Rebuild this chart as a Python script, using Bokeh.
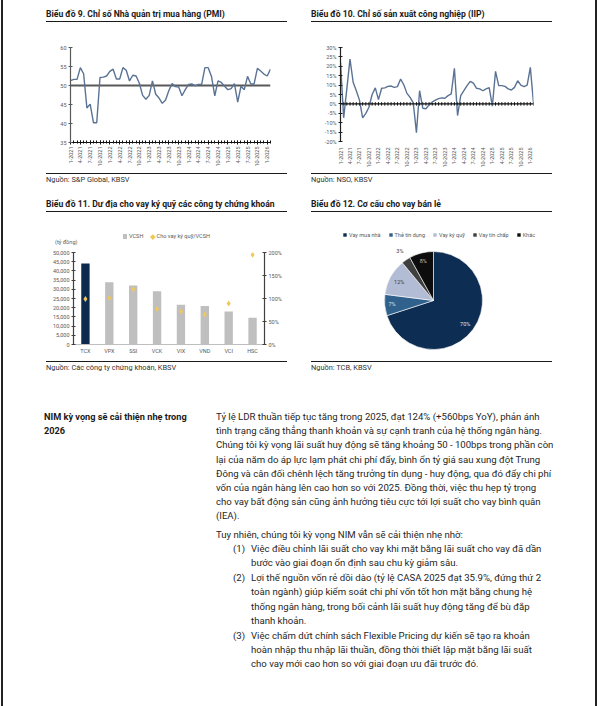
import math
import numpy as np
from bokeh.plotting import figure
from bokeh.layouts import row, column
from bokeh.models import (Div, Spacer, Range1d, FactorRange, LinearAxis, FixedTicker,
                          SingleIntervalTicker, Span, Legend, LegendItem,
                          NumeralTickFormatter, PrintfTickFormatter)
from bokeh.embed import file_html
from bokeh.resources import INLINE
from bokeh.core.properties import value

FONT = "Roboto"
INK = "#1a1a1a"
TICK_GRAY = "#595959"

# ---------------- data ----------------
MONTH_TICK_LABELS = ["1-2021", "4-2021", "7-2021", "10-2021",
                     "1-2022", "4-2022", "7-2022", "10-2022",
                     "1-2023", "4-2023", "7-2023", "10-2023",
                     "1-2024", "4-2024", "7-2024", "10-2024",
                     "1-2025", "4-2025", "7-2025", "10-2025", "1-2026"]

PMI = [51.3, 51.6, 51.6, 54.7, 53.1, 44.1, 45.1, 40.2, 40.2, 52.1, 52.2, 52.5,
       53.7, 54.3, 51.7, 51.7, 54.7, 54.0, 51.2, 52.7, 52.5, 50.6, 47.4, 46.4,
       47.4, 51.2, 47.7, 46.7, 45.3, 46.2, 48.7, 50.5, 49.7, 49.6, 47.3, 48.9,
       50.3, 50.4, 49.9, 50.3, 50.3, 54.7, 54.7, 52.4, 47.3, 51.2, 50.8, 49.8,
       48.9, 49.2, 50.5, 45.6, 49.8, 48.9, 52.4, 50.4, 50.4, 54.5, 53.8, 53.0,
       52.5, 54.3]
PMI_THRESHOLD = 50

IIP = [22.0, -7.4, 8.0, 23.8, 11.5, 7.0, 2.0, -7.4, -5.0, -1.8, 5.0, 8.5,
       2.3, 8.3, 8.5, 9.3, 9.5, 8.8, 9.2, 13.2, 10.2, 5.6, 3.5, 0.5,
       -15.3, 7.0, -2.3, -2.6, -0.5, 1.0, 2.0, 2.8, 3.2, 3.0, 4.4, 5.3,
       18.9, -6.2, 4.4, 7.0, 9.7, 12.0, 11.0, 8.3, 8.0, 7.0, 8.0, 8.6,
       -1.2, 17.3, 9.7, 9.7, 9.3, 8.0, 7.4, 8.8, 12.3, 10.0, 9.2, 10.0,
       19.4, 0.5]

BROKERS = ["TCX", "VPX", "SSI", "VCK", "VIX", "VND", "VCI", "HSC"]
EQUITY = [44000, 33800, 32000, 28900, 21600, 20900, 18000, 14500]
MARGIN_TO_EQUITY = [99, 101, 120, 77, 72, 65, 89, 195]
SERIES11 = ["VCSH", "Cho vay ký quỹ/VCSH"]
UNIT11 = "(tỷ đồng)"

RETAIL_CATS = ["Vay mua nhà", "Thẻ tín dụng", "Vay ký quỹ", "Vay tín chấp", "Khác"]
RETAIL_SHARE = [70, 7, 12, 3, 8]

TITLE9 = "Biểu đồ 9. Chỉ số Nhà quản trị mua hàng (PMI)"
TITLE10 = "Biểu đồ 10. Chỉ số sản xuất công nghiệp (IIP)"
TITLE11 = "Biểu đồ 11. Dư địa cho vay ký quỹ các công ty chứng khoán"
TITLE12 = "Biểu đồ 12. Cơ cấu cho vay bán lẻ"
SRC9 = "Nguồn: S&amp;P Global, KBSV"
SRC10 = "Nguồn: NSO, KBSV"
SRC11 = "Nguồn: Các công ty chứng khoán, KBSV"
SRC12 = "Nguồn: TCB, KBSV"

HEADING = ["NIM kỳ vọng sẽ cải thiện nhẹ trong", "2026"]
PARA1 = ["Tỷ lệ LDR thuần tiếp tục tăng trong 2025, đạt 124% (+560bps YoY), phản ánh",
         "tình trạng căng thẳng thanh khoản và sự cạnh tranh của hệ thống ngân hàng.",
         "Chúng tôi kỳ vọng lãi suất huy động sẽ tăng khoảng 50 - 100bps trong phần còn",
         "lại của năm do áp lực lạm phát chi phí đẩy, bình ổn tỷ giá sau xung đột Trung",
         "Đông và cân đối chênh lệch tăng trưởng tín dụng - huy động, qua đó đẩy chi phí",
         "vốn của ngân hàng lên cao hơn so với 2025. Đồng thời, việc thu hẹp tỷ trọng",
         "cho vay bất động sản cũng ảnh hưởng tiêu cực tới lợi suất cho vay bình quân",
         "(IEA)."]
PARA2 = "Tuy nhiên, chúng tôi kỳ vọng NIM vẫn sẽ cải thiện nhẹ nhờ:"
ITEMS = [["Việc điều chỉnh lãi suất cho vay khi mặt bằng lãi suất cho vay đã dần",
          "bước vào giai đoạn ổn định sau chu kỳ giảm sâu."],
         ["Lợi thế nguồn vốn rẻ dồi dào (tỷ lệ CASA 2025 đạt 35.9%, đứng thứ 2",
          "toàn ngành) giúp kiểm soát chi phí vốn tốt hơn mặt bằng chung hệ",
          "thống ngân hàng, trong bối cảnh lãi suất huy động tăng để bù đắp",
          "thanh khoản."],
         ["Việc chấm dứt chính sách Flexible Pricing dự kiến sẽ tạo ra khoản",
          "hoàn nhập thu nhập lãi thuần, đồng thời thiết lập mặt bằng lãi suất",
          "cho vay mới cao hơn so với giai đoạn ưu đãi trước đó."]]

# ---------------- styles ----------------
LINE_BLUE = "#5a7394"
NAVY = "#0c2a4d"
BAR_GRAY = "#bfbfbf"
GOLD = "#f0c75a"
PIE_COLORS = ["#0e2d52", "#30608c", "#b3bcd5", "#3f3f3f", "#0d0d0d"]
PIE_TEXT_COLORS = ["#dfe4ec", "#dfe4ec", "#404040", "#404040", "#bfbfbf"]
PIE_LABEL_R = [0.8, 0.85, 0.8, 1.22, 0.84]

COMMON = dict(output_backend="svg", toolbar_location=None, outline_line_color=None,
              background_fill_color="white", border_fill_color="white", margin=0)


def style_axis(ax, color="#404040", tin=2, tout=2):
    ax.axis_line_color = color
    ax.axis_line_width = 1.2
    ax.major_tick_line_color = color
    ax.major_tick_in = tin
    ax.major_tick_out = tout
    ax.minor_tick_line_color = None
    ax.major_label_text_font = FONT
    ax.major_label_text_font_size = "5.5px"
    ax.major_label_text_color = TICK_GRAY
    ax.major_label_standoff = 2


def title_div(text, w):
    html = (f'<div style="box-sizing:border-box;width:{w}px;height:22px;padding-top:9px;'
            f'border-bottom:1.6px solid {INK};font-family:{FONT};font-weight:bold;font-size:8.6px;'
            f'line-height:10px;color:{INK};white-space:nowrap">{text}</div>')
    return Div(text=html, width=w, height=22, margin=0)


def source_div(text, w):
    html = (f'<div style="box-sizing:border-box;width:{w}px;margin-top:1px;padding-top:1px;'
            f'border-top:1.5px solid {INK};font-family:{FONT};font-size:7.4px;'
            f'line-height:9px;color:#333333;white-space:nowrap">{text}</div>')
    return Div(text=html, width=w, height=20, margin=0)


def edge(w, h, side):
    ml = 0.5 if side == "L" else w - 2.5
    html = f'<div style="width:2px;height:{h}px;margin-left:{ml}px;background:#222222"></div>'
    return Div(text=html, width=w, height=h, margin=0)


def month_axis(p, n):
    tick_idx = [3 * i for i in range(len(MONTH_TICK_LABELS))]
    ax = p.xaxis[0]
    ax.ticker = FixedTicker(ticks=tick_idx, minor_ticks=list(range(n)))
    ax.major_label_overrides = {t: lab for t, lab in zip(tick_idx, MONTH_TICK_LABELS)}
    ax.major_label_orientation = math.pi / 2


# ---------------- chart 9: PMI ----------------
n9 = len(PMI)
x9 = list(range(n9))
p9 = figure(width=241, height=148, x_range=Range1d(0, n9 - 1), y_range=Range1d(35, 60),
            min_border_left=24, min_border_right=17, min_border_top=25, min_border_bottom=28,
            **COMMON)
p9.grid.visible = False
p9.add_layout(Span(location=PMI_THRESHOLD, dimension="width", line_color="#595959",
                   line_width=2, level="underlay"))
p9.line(x9, PMI, line_color=LINE_BLUE, line_width=1.4)
style_axis(p9.yaxis[0], color="#595959")
p9.yaxis[0].ticker = SingleIntervalTicker(interval=5, num_minor_ticks=0)
style_axis(p9.xaxis[0], color="#111111", tin=2, tout=2)
month_axis(p9, n9)
p9.xaxis[0].minor_tick_line_color = "#111111"
p9.xaxis[0].minor_tick_in = 2
p9.xaxis[0].minor_tick_out = 1

# ---------------- chart 10: IIP ----------------
n10 = len(IIP)
x10 = list(range(n10))
p10 = figure(width=241, height=148, x_range=Range1d(0, n10 - 1), y_range=Range1d(-20, 30),
             min_border_left=29, min_border_right=19, min_border_top=25, min_border_bottom=28,
             **COMMON)
p10.grid.visible = False
p10.add_layout(Span(location=0, dimension="width", line_color="#111111", line_width=1.2))
p10.scatter(x=x10, y=[0] * n10, marker="dash", angle=math.pi / 2, size=3.5,
            line_color="#111111", line_width=1)
p10.line(x10, IIP, line_color=LINE_BLUE, line_width=1.4)
style_axis(p10.yaxis[0], color="#222222")
p10.yaxis[0].ticker = SingleIntervalTicker(interval=5, num_minor_ticks=0)
p10.yaxis[0].formatter = PrintfTickFormatter(format="%d%%")
style_axis(p10.xaxis[0])
month_axis(p10, n10)
p10.xaxis[0].axis_line_color = None
p10.xaxis[0].major_tick_line_color = None

# ---------------- chart 11: margin lending ----------------
p11 = figure(width=241, height=112, x_range=FactorRange(factors=BROKERS, range_padding=0),
             y_range=Range1d(0, 50000),
             min_border_left=27, min_border_right=23, min_border_top=6, min_border_bottom=14,
             **COMMON)
p11.grid.visible = False
p11.extra_y_ranges = {"pct": Range1d(0, 200)}
bar_colors = [NAVY if i == 0 else BAR_GRAY for i in range(len(BROKERS))]
bars = p11.vbar(x=BROKERS, top=EQUITY, width=0.35, fill_color=bar_colors, line_color=None)
dots = p11.scatter(x=BROKERS, y=MARGIN_TO_EQUITY, y_range_name="pct", marker="diamond",
                   size=6, fill_color=GOLD, line_color=None)
style_axis(p11.yaxis[0])
p11.yaxis[0].ticker = SingleIntervalTicker(interval=5000, num_minor_ticks=0)
p11.yaxis[0].formatter = NumeralTickFormatter(format="0,0")
ax_r = LinearAxis(y_range_name="pct")
style_axis(ax_r)
ax_r.ticker = SingleIntervalTicker(interval=50, num_minor_ticks=0)
ax_r.formatter = PrintfTickFormatter(format="%d%%")
p11.add_layout(ax_r, "right")
style_axis(p11.xaxis[0], color="#bfbfbf", tin=0, tout=0)
p11.xaxis[0].major_label_standoff = 3

# legend strip + unit label for chart 11 (HTML text above the plot)
sw = "display:inline-block;width:4.5px;height:4.5px;vertical-align:middle;margin-right:1.5px"
legend11_html = (
    f'<div style="position:relative;width:241px;height:34px;font-family:{FONT};font-size:5.6px;'
    f'color:{TICK_GRAY};white-space:nowrap">'
    f'<div style="position:absolute;left:0;top:20px;width:241px;line-height:8px;text-align:center">'
    f'<span style="{sw};background:{BAR_GRAY}"></span>{SERIES11[0]}'
    f'<span style="display:inline-block;width:8px"></span>'
    f'<span style="{sw};width:3.6px;height:3.6px;background:{GOLD};transform:rotate(45deg)"></span>'
    f'{SERIES11[1]}</div>'
    f'<div style="position:absolute;left:9px;top:26px;line-height:8px">{UNIT11}</div></div>')
strip11 = Div(text=legend11_html, width=241, height=34, margin=0)

# ---------------- chart 12: retail loan mix ----------------
PIE_CX, PIE_CY, PIE_R = 122, 58, 49
p12 = figure(width=241, height=146, x_range=Range1d(0, 241), y_range=Range1d(0, 146),
             x_axis_location=None, y_axis_location=None, min_border=0, **COMMON)
p12.grid.visible = False
shares = np.array(RETAIL_SHARE, dtype=float) / sum(RETAIL_SHARE)
cum = np.concatenate([[0.0], np.cumsum(shares)])
start = np.pi / 2 - 2 * np.pi * cum[:-1]
end = np.pi / 2 - 2 * np.pi * cum[1:]
wedges = p12.wedge(x=PIE_CX, y=PIE_CY, radius=PIE_R, radius_units="screen",
                   start_angle=list(start), end_angle=list(end), direction="clock",
                   fill_color=PIE_COLORS, line_color="white", line_width=0.6)
mid = (start + end) / 2
lx = PIE_CX + PIE_R * np.array(PIE_LABEL_R) * np.cos(mid)
ly = PIE_CY + PIE_R * np.array(PIE_LABEL_R) * np.sin(mid)
p12.text(x=list(lx), y=list(ly), text=[f"{v}%" for v in RETAIL_SHARE],
         text_font=value(FONT), text_font_size="5.5px", text_color=PIE_TEXT_COLORS,
         text_align="center", text_baseline="middle")
leg12 = Legend(items=[LegendItem(label=c, renderers=[wedges], index=i)
                      for i, c in enumerate(RETAIL_CATS)],
               orientation="horizontal", location=(31, 120), padding=0, margin=0,
               spacing=7, glyph_width=5, glyph_height=5, label_height=7, label_standoff=2,
               label_text_font=FONT, label_text_font_size="5.5px", label_text_color=TICK_GRAY,
               border_line_color=None, background_fill_alpha=0)
p12.add_layout(leg12)

# ---------------- text block ----------------
TXT = f"font-family:{FONT};font-size:9.6px;line-height:14.2px;color:#262626;white-space:nowrap"
heading_html = (f'<div style="padding-top:32px;{TXT};font-size:9.2px;font-weight:bold;color:{INK}">'
                + "<br>".join(HEADING) + "</div>")
items_html = ""
for k, lines in enumerate(ITEMS):
    mt = 0 if k == 0 else 0.6
    items_html += (f'<div style="display:flex;margin-left:17px;margin-top:{mt}px">'
                   f'<div style="width:18px;flex:none">({k + 1})</div>'
                   f'<div>{"<br>".join(lines)}</div></div>')
body_html = (f'<div style="padding-top:32px;{TXT}">' + "<br>".join(PARA1)
             + f'<div style="margin-top:4.4px">{PARA2}</div>' + items_html + "</div>")

# ---------------- layout ----------------
block9 = column(title_div(TITLE9, 241), p9, source_div(SRC9, 241), spacing=0, margin=0)
block10 = column(title_div(TITLE10, 241), p10, source_div(SRC10, 241), spacing=0, margin=0)
block11 = column(title_div(TITLE11, 241), strip11, p11, source_div(SRC11, 241),
                 spacing=0, margin=0)
block12 = column(title_div(TITLE12, 241), p12, source_div(SRC12, 241), spacing=0, margin=0)

rowA = row(edge(46, 190, "L"), block9, Spacer(width=24, height=190, margin=0), block10,
           edge(45, 190, "R"), spacing=0, margin=0)
rowB = row(edge(46, 188, "L"), block11, Spacer(width=24, height=188, margin=0), block12,
           edge(45, 188, "R"), spacing=0, margin=0)
rowC = row(edge(44, 328, "L"), Div(text=heading_html, width=172, height=328, margin=0),
           Div(text=body_html, width=370, height=328, margin=0), edge(11, 328, "R"),
           spacing=0, margin=0)

page = column(rowA, rowB, rowC, spacing=0, margin=0)

open("out.html", "w").write(file_html(page, INLINE))
